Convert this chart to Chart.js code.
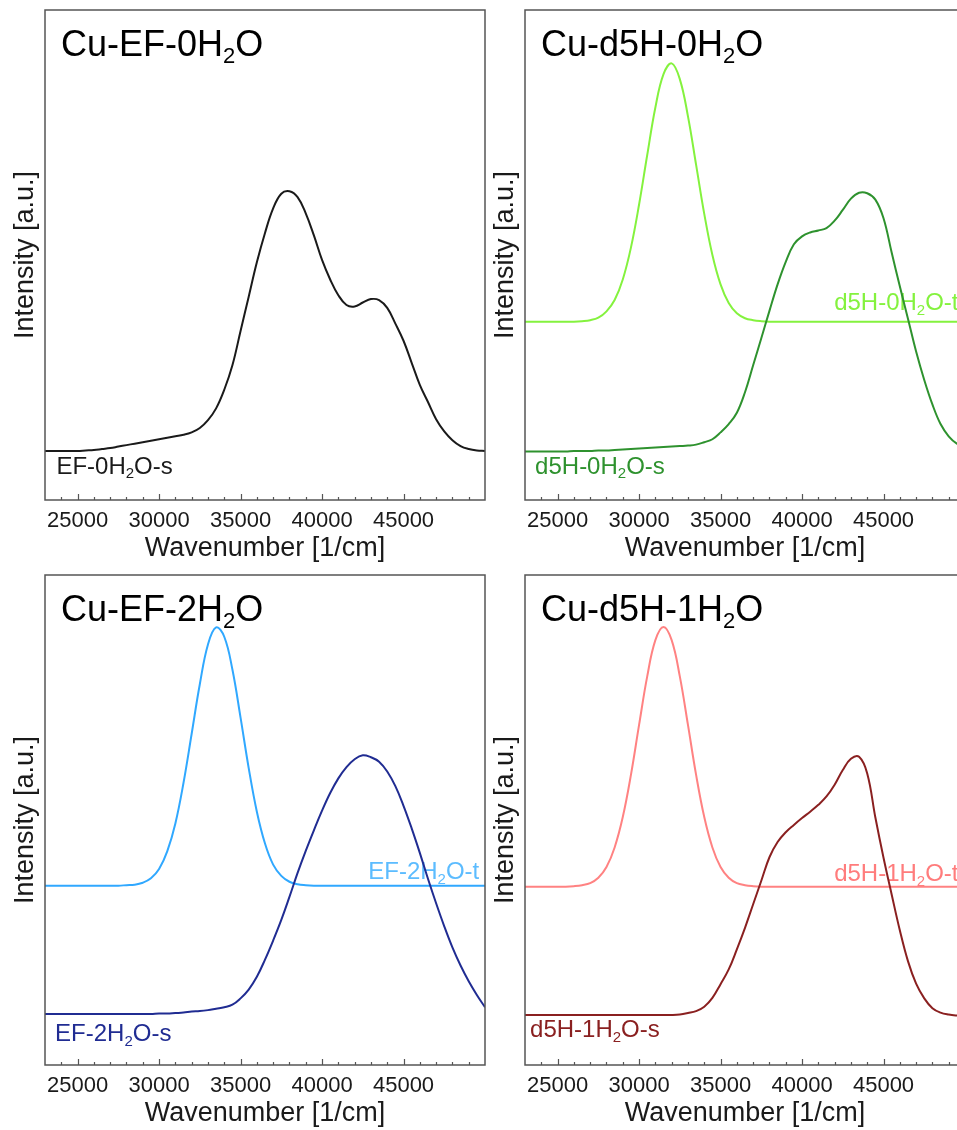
<!DOCTYPE html>
<html>
<head>
<meta charset="utf-8">
<script src="https://cdn.jsdelivr.net/npm/chart.js@4.4.1/dist/chart.umd.min.js"></script>
<style>
  html, body { margin: 0; padding: 0; overflow: hidden; background: #fff; }
  body { width: 957px; height: 1130px; position: relative; }
  .panel { position: absolute; }
  .panel canvas { display: block; }
</style>
</head>
<body>
<div class="panel" style="left:0;top:0"><canvas id="pTL" width="490" height="565"></canvas></div>
<div class="panel" style="left:480px;top:0"><canvas id="pTR" width="505" height="565"></canvas></div>
<div class="panel" style="left:0;top:565px"><canvas id="pBL" width="490" height="565"></canvas></div>
<div class="panel" style="left:480px;top:565px"><canvas id="pBR" width="505" height="565"></canvas></div>
<script>
// x samples shared by every spectrum (1/cm)
const wavenumbers = [
  23000, 23500, 24000, 24500, 25000, 25500, 26000, 26500, 27000, 27500,
  28000, 28500, 29000, 29500, 30000, 30500, 31000, 31500, 32000, 32500,
  33000, 33500, 34000, 34500, 35000, 35500, 36000, 36500, 37000, 37500,
  38000, 38500, 39000, 39500, 40000, 40500, 41000, 41500, 42000, 42500,
  43000, 43500, 44000, 44500, 45000, 45500, 46000, 46500, 47000, 47500,
  48000, 48500, 49000, 49500, 50000,
];
const xTickValues = [25000, 30000, 35000, 40000, 45000];

// intensities, arbitrary units (offset spectra)
const ef0s = [
  10.0, 10.0, 10.0, 10.0, 10.0, 10.1, 10.2, 10.4, 10.6, 10.9,
  11.2, 11.5, 11.8, 12.1, 12.4, 12.7, 13.0, 13.3, 13.8, 14.7,
  16.3, 18.7, 22.5, 27.5, 34.5, 41.5, 48.5, 54.5, 59.5, 62.5,
  63.0, 61.8, 58.5, 54.0, 49.0, 45.0, 41.8, 39.8, 39.5, 40.3,
  41.0, 40.8, 39.2, 36.0, 32.5, 28.0, 23.5, 20.0, 16.5, 14.0,
  12.2, 11.0, 10.4, 10.1, 10.0,
];
const d5h0t = [
  36.4, 36.4, 36.4, 36.4, 36.4, 36.4, 36.4, 36.5, 36.7, 37.2,
  38.5, 40.8, 45.0, 51.5, 60.3, 70.4, 80.1, 86.9, 89.1, 85.9,
  78.3, 68.4, 58.4, 50.0, 44.0, 40.2, 38.1, 37.1, 36.7, 36.5,
  36.4, 36.4, 36.4, 36.4, 36.4, 36.4, 36.4, 36.4, 36.4, 36.4,
  36.4, 36.4, 36.4, 36.4, 36.4, 36.4, 36.4, 36.4, 36.4, 36.4,
  36.4, 36.4, 36.4, 36.4, 36.4,
];
const d5h0s = [
  9.9, 9.9, 9.9, 9.9, 9.9, 9.9, 10.0, 10.0, 10.0, 10.1,
  10.1, 10.2, 10.3, 10.4, 10.5, 10.6, 10.7, 10.8, 10.9, 11.0,
  11.1, 11.3, 11.8, 12.4, 13.8, 15.5, 17.8, 22.0, 27.5, 33.0,
  38.6, 44.0, 48.6, 52.2, 53.8, 54.6, 55.0, 55.5, 57.0, 59.2,
  61.5, 62.7, 62.6, 61.3, 57.5, 50.5, 43.6, 37.0, 30.3, 24.5,
  19.5, 15.5, 13.0, 11.5, 10.8,
];
const ef2t = [
  36.6, 36.6, 36.6, 36.6, 36.6, 36.6, 36.6, 36.6, 36.6, 36.6,
  36.7, 36.8, 37.2, 38.1, 40.0, 43.6, 49.3, 57.6, 67.6, 77.7,
  85.8, 89.3, 87.4, 80.7, 70.9, 60.6, 51.7, 45.2, 40.9, 38.6,
  37.4, 36.9, 36.7, 36.6, 36.6, 36.6, 36.6, 36.6, 36.6, 36.6,
  36.6, 36.6, 36.6, 36.6, 36.6, 36.6, 36.6, 36.6, 36.6, 36.6,
  36.6, 36.6, 36.6, 36.6, 36.6,
];
const ef2s = [
  10.4, 10.4, 10.4, 10.4, 10.4, 10.4, 10.4, 10.4, 10.4, 10.4,
  10.4, 10.4, 10.4, 10.4, 10.5, 10.5, 10.6, 10.7, 10.9, 11.0,
  11.2, 11.5, 11.8, 12.3, 13.6, 15.4, 18.0, 21.5, 25.4, 29.6,
  34.3, 39.2, 43.7, 47.9, 51.9, 55.5, 58.5, 60.8, 62.4, 63.2,
  62.8, 61.9, 59.9, 56.9, 52.9, 48.3, 43.3, 38.0, 33.0, 28.3,
  24.0, 20.3, 17.1, 14.3, 11.8,
];
const d5h1t = [
  36.4, 36.4, 36.4, 36.4, 36.4, 36.4, 36.5, 36.7, 37.1, 38.2,
  40.4, 44.4, 50.6, 59.2, 69.4, 79.3, 86.7, 89.4, 86.7, 79.3,
  69.4, 59.2, 50.6, 44.4, 40.4, 38.2, 37.1, 36.7, 36.5, 36.4,
  36.4, 36.4, 36.4, 36.4, 36.4, 36.4, 36.4, 36.4, 36.4, 36.4,
  36.4, 36.4, 36.4, 36.4, 36.4, 36.4, 36.4, 36.4, 36.4, 36.4,
  36.4, 36.4, 36.4, 36.4, 36.4,
];
const d5h1s = [
  10.2, 10.2, 10.2, 10.2, 10.2, 10.2, 10.2, 10.2, 10.2, 10.2,
  10.2, 10.2, 10.2, 10.2, 10.2, 10.2, 10.2, 10.2, 10.2, 10.3,
  10.6, 11.0, 11.9, 13.7, 16.5, 19.5, 23.6, 28.0, 32.8, 37.6,
  42.4, 45.5, 47.5, 49.0, 50.4, 51.7, 53.1, 54.8, 57.2, 60.2,
  62.5, 62.9, 59.5, 50.5, 42.3, 34.8, 27.5, 21.2, 16.6, 13.6,
  11.6, 10.7, 10.3, 10.1, 10.0,
];

const FONT = '"Liberation Sans", Arial, Helvetica, sans-serif';
const INK = "#1a1a1a";

// text with the 2 of H2O set as a subscript
function drawChem(ctx, text, x, y, size, color) {
  const [pre, post] = text.split("H2O");
  ctx.save();
  ctx.fillStyle = color;
  ctx.textAlign = "left";
  ctx.textBaseline = "alphabetic";
  ctx.font = `${size}px ${FONT}`;
  ctx.fillText(pre + "H", x, y);
  x += ctx.measureText(pre + "H").width;
  ctx.font = `${Math.round(size * 0.62)}px ${FONT}`;
  ctx.fillText("2", x, y + size * 0.2);
  x += ctx.measureText("2").width;
  ctx.font = `${size}px ${FONT}`;
  ctx.fillText("O" + post, x, y);
  ctx.restore();
}

const panelDecor = {
  id: "panelDecor",
  beforeDatasetsDraw(chart, args, opts) {
    const { ctx, scales: { x, y } } = chart;
    opts.labels.forEach((l) => {
      drawChem(ctx, l.text, x.getPixelForValue(l.x), y.getPixelForValue(l.y), 24, l.color);
    });
  },
  afterDraw(chart, args, opts) {
    const { ctx, chartArea: a, scales: { x } } = chart;
    ctx.save();
    // inward ticks on the bottom edge, minor every 1000
    ctx.strokeStyle = "#555";
    ctx.lineWidth = 1.2;
    ctx.beginPath();
    for (let v = 24000; v < 50000; v += 1000) {
      const px = Math.round(x.getPixelForValue(v)) + 0.5;
      const len = v % 5000 === 0 ? 6 : 3;
      ctx.moveTo(px, a.bottom);
      ctx.lineTo(px, a.bottom - len);
    }
    ctx.stroke();
    // frame
    ctx.strokeStyle = "#555";
    ctx.lineWidth = 1.5;
    ctx.strokeRect(a.left, a.top, a.right - a.left, a.bottom - a.top);
    ctx.restore();
    drawChem(ctx, opts.title, a.left + 16, a.top + 46, 36, "#000");
  },
};

function makePanel(canvasId, title, series, labels, padRight) {
  const ctx = document.getElementById(canvasId).getContext("2d");
  return new Chart(ctx, {
    type: "line",
    data: {
      datasets: series.map((s) => ({
        data: wavenumbers.map((w, i) => ({ x: w, y: s.values[i] })),
        borderColor: s.color,
        borderWidth: 2,
        pointRadius: 0,
        fill: false,
        tension: 0.4,
      })),
    },
    options: {
      responsive: false,
      animation: false,
      devicePixelRatio: 1,
      layout: { padding: { top: 10, right: padRight, left: 0, bottom: 0 } },
      plugins: {
        legend: { display: false },
        tooltip: { enabled: false },
        panelDecor: { title, labels },
      },
      scales: {
        x: {
          type: "linear",
          min: 23000,
          max: 50000,
          grid: { display: false, drawTicks: false },
          border: { display: false },
          afterBuildTicks: (s) => {
            s.ticks = xTickValues.map((v) => ({ value: v }));
          },
          afterFit: (s) => {
            s.height = 65;
          },
          ticks: {
            color: INK,
            autoSkip: false,
            maxRotation: 0,
            padding: 8,
            font: { size: 22, family: FONT },
            callback: (v) => String(v),
          },
          title: {
            display: true,
            text: "Wavenumber [1/cm]",
            color: INK,
            font: { size: 27, family: FONT },
            padding: { top: 0, bottom: 0 },
          },
        },
        y: {
          min: 0,
          max: 100,
          grid: { display: false, drawTicks: false },
          border: { display: false },
          ticks: { display: false },
          afterFit: (s) => {
            s.width = 45;
          },
          title: {
            display: true,
            text: "Intensity [a.u.]",
            color: INK,
            font: { size: 27, family: FONT },
            padding: { top: 9, bottom: 0 },
          },
        },
      },
    },
    plugins: [panelDecor],
  });
}

makePanel("pTL", "Cu-EF-0H2O",
  [{ values: ef0s, color: "#1a1a1a" }],
  [{ text: "EF-0H2O-s", x: 23700, y: 5.4, color: "#1a1a1a" }], 5);

makePanel("pTR", "Cu-d5H-0H2O",
  [{ values: d5h0s, color: "#2e922e" }, { values: d5h0t, color: "#84f23e" }],
  [
    { text: "d5H-0H2O-s", x: 23620, y: 5.4, color: "#2e922e" },
    { text: "d5H-0H2O-t", x: 41970, y: 38.8, color: "#84f23e" },
  ], 20);

makePanel("pBL", "Cu-EF-2H2O",
  [{ values: ef2s, color: "#202c92" }, { values: ef2t, color: "#30a8ff" }],
  [
    { text: "EF-2H2O-s", x: 23620, y: 4.9, color: "#202c92" },
    { text: "EF-2H2O-t", x: 42835, y: 38.0, color: "#5cbcff" },
  ], 5);

makePanel("pBR", "Cu-d5H-1H2O",
  [{ values: d5h1s, color: "#8a2020" }, { values: d5h1t, color: "#ff8282" }],
  [
    { text: "d5H-1H2O-s", x: 23310, y: 5.7, color: "#8a2020" },
    { text: "d5H-1H2O-t", x: 41970, y: 37.5, color: "#ff7c7c" },
  ], 20);
</script>
</body>
</html>
